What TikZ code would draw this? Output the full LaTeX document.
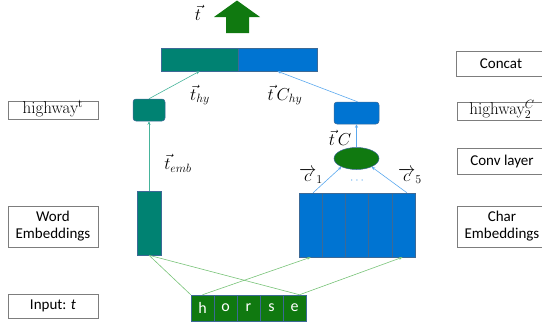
\documentclass[tikz,border=0pt]{standalone}
\usepackage{fontspec}
\newfontfamily\calfont{Carlito}
\newfontfamily\serfont{Latin Modern Roman}
\usetikzlibrary{shapes.geometric,arrows.meta}
\definecolor{tealc}{RGB}{0,130,114}
\definecolor{bluec}{RGB}{0,116,210}
\definecolor{greenc}{RGB}{16,121,16}
\definecolor{ltteal}{RGB}{70,180,155}
\definecolor{ltblue}{RGB}{90,168,238}
\definecolor{ltgreen}{RGB}{120,195,120}
\definecolor{edgec}{RGB}{60,105,150}
\definecolor{lblgray}{RGB}{125,125,125}
\begin{document}
\begin{tikzpicture}[x=1pt,y=-1pt,
  lbl/.style={draw=lblgray,line width=0.6pt,minimum width=90,inner sep=0,font=\calfont\fontsize{15}{17}\selectfont,align=center},
  serlbl/.style={draw=lblgray,line width=0.6pt,minimum width=90,inner sep=0,font=\serfont\fontsize{17}{19}\selectfont,text height=11pt,text depth=4pt},
  blk/.style={draw=edgec,line width=0.5pt,inner sep=0},
  mlab/.style={inner sep=0,font=\fontsize{18}{20}\selectfont},
  tip/.style={-{Stealth[length=3.5pt,width=3pt]}},
  cell/.style={blk,fill=bluec,minimum width=23.2,minimum height=64},
  hcell/.style={blk,fill=greenc,minimum width=23,minimum height=26,text=white,font=\calfont\fontsize{16}{18}\selectfont}]
\useasboundingbox (0,0) rectangle (542,327);
\clip (0,0) rectangle (542,327);
% label boxes left
\node[serlbl,minimum height=18] (lhw) at (53,110) {highway$^{\mathrm{t}}$};
\node[lbl,minimum height=41] (lwe) at (53,226.5) {Word\\Embeddings};
\node[lbl,minimum height=24] (lin) at (53,306) {Input: \textit{t}};
% label boxes right
\node[lbl,minimum height=25] (lcc) at (501,63.5) {Concat};
\node[serlbl,minimum height=18] (lhw2) at (502,111) {highway$^{C}_{2}$};
\node[lbl,minimum height=26] (lcv) at (502,161) {Conv layer};
\node[lbl,minimum height=41] (lce) at (502,226.5) {Char\\Embeddings};
% top output arrow
\fill[greenc] (226,33) -- (226,17) -- (214,17) -- (237,0.5) -- (260,17) -- (249,17) -- (249,33) -- cycle;
\node[mlab] (lt) at (198,13) {$\vec{t}$};
% concat
\node[blk,fill=tealc,minimum width=77,minimum height=23] (concatL) at (199.5,59.5) {};
\node[blk,fill=bluec,minimum width=79,minimum height=23] (concatR) at (277.5,59.5) {};
% highways
\node[blk,fill=tealc,rounded corners=3pt,minimum width=32,minimum height=22] (hwL) at (149,110) {};
\node[blk,fill=bluec,rounded corners=3pt,minimum width=45,minimum height=22] (hwR) at (356.5,113) {};
% conv
\node[ellipse,draw=edgec,line width=0.5pt,fill=greenc,minimum width=45,minimum height=22,inner sep=0] (conv) at (356.5,158.5) {};
% word embedding
\node[blk,fill=tealc,minimum width=24,minimum height=64] (wordEmb) at (149,223) {};
% char embeddings
\node[cell] (c1) at (310.6,225) {};
\node[cell] (c2) at (333.8,225) {};
\node[cell] (c3) at (357.0,225) {};
\node[cell] (c4) at (380.2,225) {};
\node[cell] (c5) at (403.4,225) {};
% horse
\node[hcell] (h) at (202.5,308) {h};
\node[hcell] (o) at (225.5,308) {o};
\node[hcell] (r) at (248.5,308) {r};
\node[hcell] (s) at (271.5,308) {s};
\node[hcell] (e) at (294.5,308) {e};
\coordinate (eTop) at ([xshift=5]e.north);
\coordinate (c5top) at ([xshift=3.5]c5.north);
% connectors
\draw[ltteal,line width=0.6pt,tip] (wordEmb.north) -- (hwL.south);
\draw[ltteal,line width=0.6pt,tip] (hwL.north) -- (concatL.south);
\draw[ltblue,line width=0.6pt,tip] ([xshift=1]hwR.north) -- (concatR.south);
\draw[ltblue,line width=0.6pt,tip] (conv.north) -- (hwR.south);
\draw[ltblue,line width=0.6pt,tip] ([xshift=2.5]c1.north) -- (conv.209);
\draw[ltblue,line width=0.6pt,tip] (c5top) -- (conv.331);
\draw[ltgreen,line width=0.6pt] (wordEmb.south) -- (h.north west);
\draw[ltgreen,line width=0.6pt] (wordEmb.south) -- (eTop);
\draw[ltgreen,line width=0.6pt,tip] (h.north) -- (c1.south);
\draw[ltgreen,line width=0.6pt,tip] (eTop) -- ([xshift=-1]c5.south);
% math labels
\node[mlab] (lthy) at (200,95) {$\vec{t}_{hy}$};
\node[mlab] (ltchy) at (285,95) {$\vec{t}\,C_{hy}$};
\node[mlab] (ltemb) at (178,163) {$\vec{t}_{emb}$};
\node[mlab] (ltc) at (340,138) {$\vec{t}\,C$};
\node[mlab] (lc1) at (311,176) {$\overrightarrow{c}_{1}$};
\node[mlab] (lc5) at (410,176) {$\overrightarrow{c}_{5}$};
\node[inner sep=0,text=ltblue,font=\fontsize{12}{14}\selectfont] (dots) at (357,181) {$\cdots$};
\end{tikzpicture}
\end{document}
